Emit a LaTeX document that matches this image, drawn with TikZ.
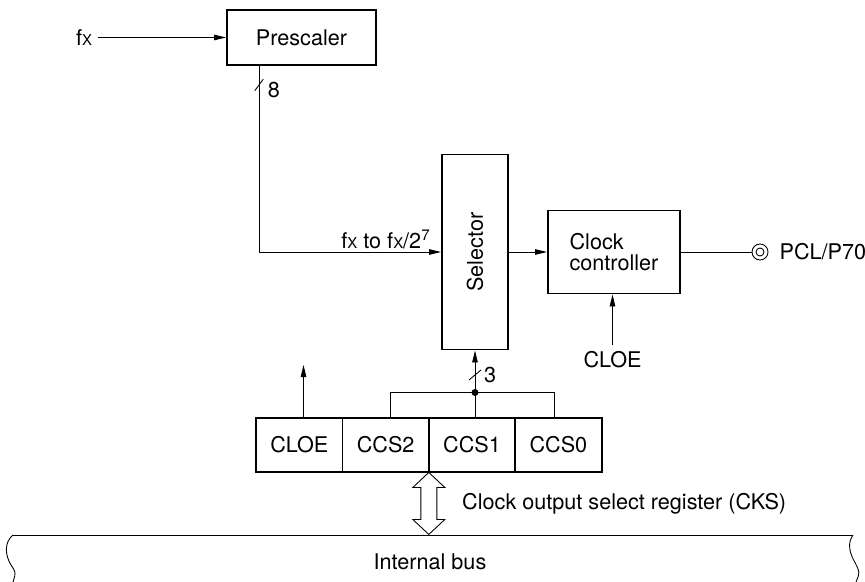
\documentclass[tikz,border=0pt]{standalone}
\usepackage{fontspec}
\setmainfont{TeX Gyre Heros}
\usetikzlibrary{positioning,arrows.meta}

\begin{document}
\begin{tikzpicture}[
  >={Triangle[length=2.4mm,width=1.1mm]},
  font=\fontsize{12.3}{11.6}\selectfont,
  block/.style={draw,line width=1.1pt,inner sep=0pt},
  cell/.style={draw,line width=0.5pt,minimum width=1.71cm,minimum height=1.08cm,inner sep=0pt},
  wire/.style={line width=0.5pt}
  ]
\useasboundingbox (0,0) rectangle (17.3,-11.64);

\node (fx) at (1.68,-0.75) {f{\fontsize{8.5}{9}\selectfont X}};
\node[block,minimum width=2.98cm,minimum height=1.1cm] (pre) at (6.03,-0.75) {Prescaler};
\node[block,minimum width=1.32cm,minimum height=3.9cm] (sel) at (9.5,-5.04) {\rotatebox{90}{Selector}};
\node[block,minimum width=2.64cm,minimum height=1.66cm,align=left] (ctl) at (12.28,-5.04) {Clock\\controller};
\node[circle,draw,wire,minimum size=0.32cm,inner sep=0pt] (pin) at (15.2,-5.04) {};
\node[anchor=west,xshift=0.1cm] (pcl) at (pin.east) {PCL/P70};
\node (cloein) at (12.25,-7.19) {CLOE};

\node[cell] (cloe) at (5.985,-8.9) {CLOE};
\node[cell,right=0pt of cloe] (ccs2) {CCS2};
\node[cell,right=0pt of ccs2] (ccs1) {CCS1};
\node[cell,right=0pt of ccs1] (ccs0) {CCS0};
\draw[line width=1.1pt] (cloe.north west) rectangle (ccs0.south east);

\draw[wire,->] (fx.east) -- (pre.west);
\draw[wire,->] (pre.south -| 5.18,0) |- (sel.west);
\draw[wire] (5.18,-1.7) ++(-0.085,-0.115) -- ++(0.17,0.23);
\node (b8) at (5.48,-1.8) {8};
\node (rng) at (7.72,-4.79) {f{\fontsize{8.5}{9}\selectfont X} to f{\fontsize{8.5}{9}\selectfont X}/2\textsuperscript{7}};

\draw[wire,->] (sel.east) -- (ctl.west);
\draw[wire] (ctl.east) -- (pin.west);
\draw[wire] (pin) circle (0.08);
\draw[wire,->] (cloein.north) -- (cloein.north |- ctl.south);

\coordinate (jn) at (sel.south |- 0,-7.85);
\fill (jn) circle (0.07);
\draw[wire,->] (jn) -- (sel.south);
\draw[wire] (jn) -- (jn |- ccs1.north);
\draw[wire] (ccs2.north -| 7.81,0) |- (jn) -| (ccs0.north -| 11.08,0);
\draw[wire] (sel.south |- 0,-7.5) ++(-0.12,-0.1) -- ++(0.24,0.2);
\node (b3) at (9.8,-7.5) {3};

\coordinate (cloeout) at (6.07,-7.3);
\draw[wire,->] (cloe.north -| cloeout) -- (cloeout);

\draw[wire,fill=white] (ccs1.south west) -- ++(0.32,-0.3) -- ++(-0.16,0) -- ++(0,-0.64)
  -- ++(0.16,0) -- ++(-0.32,-0.3) -- ++(-0.32,0.3) -- ++(0.16,0) -- ++(0,0.64) -- ++(-0.16,0) -- cycle;
\node[anchor=west] (cks) at (9.12,-10.08) {Clock output select register (CKS)};

\draw[wire] (0.26,-10.7) -- (17.06,-10.7);
\draw[wire] (0.26,-10.7) .. controls (0.08,-10.85) and (0.1,-11.1) .. (0.22,-11.3) .. controls (0.32,-11.45) .. (0.26,-11.64);
\draw[wire] (17.06,-10.7) .. controls (16.95,-10.85) and (16.98,-11.05) .. (17.1,-11.25) .. controls (17.2,-11.45) .. (17.12,-11.64);
\node (bus) at (8.6,-11.24) {Internal bus};

\end{tikzpicture}
\end{document}
